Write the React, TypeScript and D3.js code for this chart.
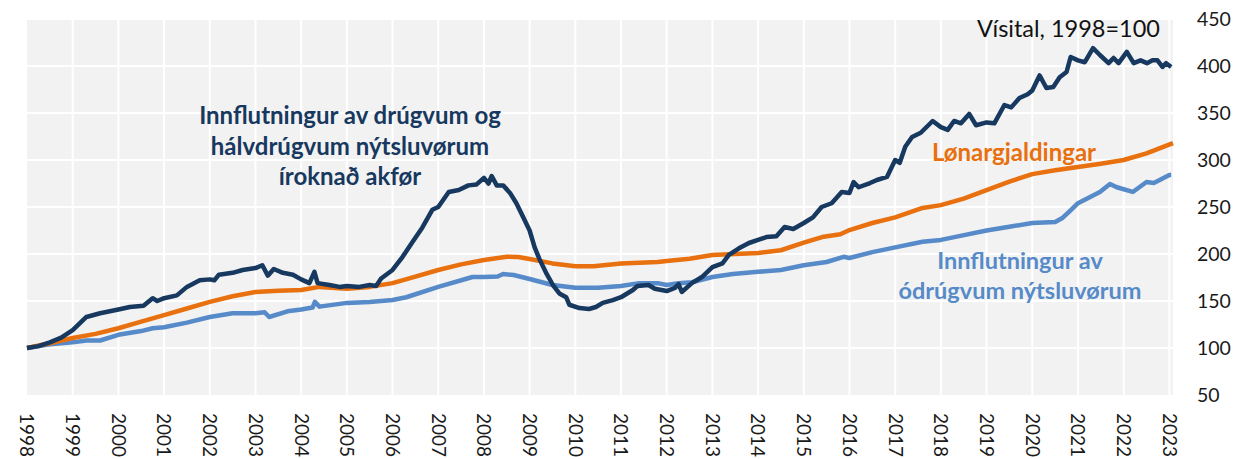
import React from "react";
import * as d3 from "d3";

// [decimal year, index value]
const importsDurable: [number, number][] = [
  [1998.0, 100], [1998.25, 102], [1998.5, 106], [1998.75, 111], [1999.0, 119],
  [1999.3, 133], [1999.6, 137], [2000.0, 141], [2000.25, 143.6], [2000.55, 145],
  [2000.75, 153], [2000.85, 150], [2001.0, 153], [2001.28, 156], [2001.5, 165],
  [2001.78, 172], [2002.0, 173], [2002.1, 172], [2002.2, 178], [2002.5, 180],
  [2002.72, 183], [2003.0, 185], [2003.15, 188], [2003.27, 177], [2003.4, 184],
  [2003.6, 180], [2003.82, 178], [2004.0, 173], [2004.18, 169], [2004.29, 181],
  [2004.36, 169], [2004.62, 167], [2004.84, 165], [2005.0, 166], [2005.27, 165],
  [2005.5, 167], [2005.64, 166], [2005.75, 174], [2006.0, 183], [2006.22, 197],
  [2006.44, 213], [2006.65, 228], [2006.87, 247], [2007.0, 250], [2007.23, 266],
  [2007.45, 268], [2007.66, 273], [2007.84, 274], [2008.0, 281], [2008.1, 275],
  [2008.17, 283], [2008.28, 273], [2008.42, 273], [2008.57, 265], [2008.71, 254],
  [2008.86, 239], [2009.0, 225], [2009.11, 207], [2009.22, 194], [2009.36, 180],
  [2009.51, 167], [2009.65, 158], [2009.8, 154], [2009.87, 146], [2010.09, 142.5],
  [2010.3, 141.5], [2010.45, 143.6], [2010.6, 148], [2010.82, 151], [2011.0, 154],
  [2011.26, 161.7], [2011.36, 166], [2011.6, 167], [2011.74, 163], [2012.0, 160.6],
  [2012.18, 164], [2012.26, 168], [2012.33, 159.6], [2012.55, 169], [2012.77, 175.5],
  [2013.0, 186], [2013.22, 190], [2013.36, 199], [2013.58, 206], [2013.8, 211.7],
  [2014.0, 215], [2014.18, 218], [2014.4, 219], [2014.58, 228.7], [2014.77, 226.6],
  [2015.0, 233], [2015.2, 239], [2015.39, 250], [2015.61, 254], [2015.83, 266],
  [2016.0, 265], [2016.09, 276.6], [2016.2, 271], [2016.45, 275.5], [2016.6, 278.7],
  [2016.82, 282], [2017.0, 300], [2017.1, 297], [2017.22, 314], [2017.37, 324.5],
  [2017.56, 329], [2017.82, 341.5], [2018.0, 335], [2018.15, 332], [2018.29, 341.5],
  [2018.44, 339], [2018.62, 349], [2018.77, 337], [2019.0, 340], [2019.17, 339],
  [2019.39, 358.5], [2019.54, 356], [2019.72, 366], [2019.9, 370], [2020.0, 374],
  [2020.16, 390], [2020.31, 376.6], [2020.46, 377.6], [2020.6, 388], [2020.75, 393.6],
  [2020.84, 409.6], [2021.0, 406], [2021.15, 404], [2021.33, 419], [2021.48, 411.7],
  [2021.67, 403], [2021.78, 408.5], [2021.89, 403], [2022.07, 415], [2022.22, 403],
  [2022.37, 406], [2022.51, 403], [2022.63, 406], [2022.74, 406], [2022.85, 399],
  [2022.93, 403], [2023.04, 399],
];

const wages: [number, number][] = [
  [1998.0, 100], [1998.5, 105], [1999.0, 110.6], [1999.5, 115], [2000.0, 121],
  [2000.5, 128], [2001.0, 135], [2001.5, 142], [2002.0, 149], [2002.5, 155],
  [2003.0, 159.6], [2003.5, 161], [2004.0, 161.7], [2004.4, 165], [2005.0, 163],
  [2005.5, 165], [2006.0, 169], [2006.5, 176], [2007.0, 183], [2007.5, 189],
  [2008.0, 193.6], [2008.5, 197], [2008.75, 196.8], [2009.0, 194.7], [2009.5, 190],
  [2010.0, 187], [2010.4, 187], [2011.0, 190], [2011.8, 191.5], [2012.0, 192.5],
  [2012.5, 195], [2013.0, 199], [2014.0, 201], [2014.5, 204], [2015.0, 212],
  [2015.4, 218], [2015.8, 221], [2016.0, 225.5], [2016.5, 233], [2017.0, 239],
  [2017.6, 249], [2018.0, 252], [2018.5, 259], [2019.0, 268], [2019.5, 277],
  [2020.0, 285], [2020.5, 289], [2021.0, 292.5], [2021.5, 296], [2022.0, 300],
  [2022.5, 307], [2023.08, 318],
];

const importsNonDurable: [number, number][] = [
  [1998.0, 100], [1998.5, 104], [1999.0, 106], [1999.3, 108], [1999.6, 108],
  [2000.0, 114], [2000.5, 118], [2000.75, 121], [2001.0, 122], [2001.5, 127],
  [2002.0, 133], [2002.5, 137], [2003.0, 137], [2003.2, 138], [2003.3, 133],
  [2003.7, 139], [2004.0, 141], [2004.25, 143], [2004.3, 149], [2004.4, 144],
  [2005.0, 148], [2005.5, 149], [2006.0, 151], [2006.3, 154], [2007.0, 165],
  [2007.75, 175.5], [2008.0, 175.5], [2008.3, 176], [2008.42, 178.7], [2008.65, 177.7],
  [2009.0, 173.4], [2009.5, 167], [2010.0, 164], [2010.5, 164], [2011.0, 166],
  [2011.4, 169], [2011.8, 169], [2012.0, 167], [2012.26, 169], [2012.55, 170],
  [2013.0, 175.5], [2013.45, 178.7], [2014.0, 181], [2014.5, 183], [2015.0, 188],
  [2015.5, 191.5], [2015.87, 197], [2016.0, 195.7], [2016.5, 202], [2017.0, 207],
  [2017.6, 213], [2018.0, 215], [2018.4, 219], [2019.0, 225], [2019.5, 229],
  [2020.0, 233], [2020.5, 234], [2020.65, 238], [2020.85, 247], [2021.0, 254],
  [2021.48, 266], [2021.7, 274.5], [2021.85, 271], [2022.2, 266], [2022.5, 276.6],
  [2022.66, 275.5], [2023.0, 284], [2023.04, 284],
];

const yearTicks = d3.range(1998, 2024);
const valueTicks = [50, 100, 150, 200, 250, 300, 350, 400, 450];

const darkLabel = ["Innflutningur av drúgvum og", "hálvdrúgvum nýtsluvørum", "íroknað akfør"];
const wageLabel = "Lønargjaldingar";
const lightLabel = ["Innflutningur av", "ódrúgvum nýtsluvørum"];
const indexNote = "Vísital, 1998=100";

const DARK = "#17385f";
const ORANGE = "#e8700e";
const LIGHT = "#568ac8";
const FONT = "Lato, 'Open Sans', sans-serif";

const W = 1238;
const H = 459;
const plot = { left: 27, right: 1173, top: 19, bottom: 395 };

export default function App() {
  const x = d3.scaleLinear().domain([1998, 2023.08]).range([plot.left, plot.right]);
  const y = d3.scaleLinear().domain([50, 450]).range([plot.bottom, plot.top]);

  const line = d3
    .line<[number, number]>()
    .x(d => x(d[0]))
    .y(d => y(d[1]));

  return (
    <svg
      width={W}
      height={H}
      style={{ position: "absolute", left: 0, top: 0, background: "#fff" }}
      fontFamily={FONT}
    >
      <rect
        x={plot.left}
        y={plot.top}
        width={plot.right - plot.left}
        height={plot.bottom - plot.top}
        fill="#f2f2f2"
      />
      {yearTicks.slice(1).map(t => (
        <line key={"vx" + t} x1={x(t)} x2={x(t)} y1={plot.top} y2={plot.bottom} stroke="#fff" strokeWidth={2} />
      ))}
      {valueTicks.slice(1).map(v => (
        <line key={"hy" + v} x1={plot.left} x2={plot.right} y1={y(v)} y2={y(v)} stroke="#fff" strokeWidth={2} />
      ))}

      <path d={line(importsNonDurable) || ""} fill="none" stroke={LIGHT} strokeWidth={4.5} strokeLinejoin="round" />
      <path d={line(wages) || ""} fill="none" stroke={ORANGE} strokeWidth={4.5} strokeLinejoin="round" />
      <path d={line(importsDurable) || ""} fill="none" stroke={DARK} strokeWidth={4.5} strokeLinejoin="round" />

      {valueTicks.map(v => (
        <text key={"yl" + v} x={1197} y={y(v)} dy="0.35em" fontSize={19.5} fill="#1a1a1a">
          {v}
        </text>
      ))}
      {yearTicks.map(t => (
        <text
          key={"xl" + t}
          transform={`translate(${x(t)},413) rotate(90)`}
          dy="0.35em"
          fontSize={19}
          fill="#1a1a1a"
        >
          {t}
        </text>
      ))}

      <text x={1160} y={37} textAnchor="end" fontSize={23.5} fill="#111">
        {indexNote}
      </text>
      {darkLabel.map((s, i) => (
        <text key={"dl" + i} x={350} y={124 + i * 30.5} textAnchor="middle" fontSize={24} fontWeight="bold" fill={DARK}>
          {s}
        </text>
      ))}
      <text x={1014} y={161} textAnchor="middle" fontSize={24} fontWeight="bold" fill={ORANGE}>
        {wageLabel}
      </text>
      {lightLabel.map((s, i) => (
        <text key={"ll" + i} x={1020} y={269 + i * 30} textAnchor="middle" fontSize={23.5} fontWeight="bold" fill={LIGHT}>
          {s}
        </text>
      ))}
    </svg>
  );
}
